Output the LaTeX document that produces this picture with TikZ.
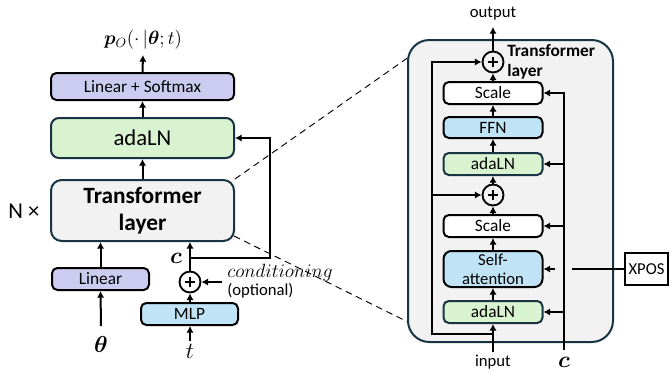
\documentclass[tikz,border=0pt]{standalone}
\usepackage{fontspec}
\setmainfont{Carlito}
\usepackage{bm}
\usetikzlibrary{arrows.meta}

\definecolor{lav}{RGB}{204,204,240}
\definecolor{mint}{RGB}{217,242,208}
\definecolor{sky}{RGB}{192,228,245}
\definecolor{panelgray}{RGB}{242,242,242}
\definecolor{edge}{RGB}{24,52,66}

\def\u{0.75pt}

\tikzset{
  box/.style={draw, line width=1.5pt, rounded corners=4pt, align=center,
    inner sep=0pt, font=\fontsize{13}{15}\selectfont},
  arr/.style={line width=1.5pt, -{Latex[length=5pt,width=5.5pt]}},
  wire/.style={line width=1.5pt},
  plus/.style={circle, draw, line width=1.4pt, minimum size=21*\u, inner sep=0pt,
    path picture={
      \draw[line width=1.3pt] (path picture bounding box.center) ++(-4pt,0) -- ++(8pt,0);
      \draw[line width=1.3pt] (path picture bounding box.center) ++(0,-4pt) -- ++(0,8pt);}},
  link/.style={line width=0.7pt, dash pattern=on 5pt off 3.5pt},
  mathlbl/.style={font=\fontsize{16}{18}\selectfont, inner sep=0pt},
  small/.style={font=\fontsize{12.5}{14}\selectfont, inner sep=0pt}
}

\begin{document}
\begin{tikzpicture}[x=\u, y=-\u]
\useasboundingbox (0,0) rectangle (672,371);

% ---------- overall model (left) ----------
\node[mathlbl, font=\fontsize{14.5}{17}\selectfont] (pout) at (143,40) {$\bm{p}_O(\cdot\,|\bm{\theta};t)$};
\node[box, fill=lav, minimum width=183*\u, minimum height=27*\u] (ls) at (142.5,86.5) {Linear + Softmax};
\node[box, draw=edge, fill=mint, rounded corners=6pt, minimum width=183*\u, minimum height=40*\u,
      font=\fontsize{17}{19}\selectfont] (ada) at (142.5,138) {adaLN};
\node[box, draw=edge, fill=panelgray, rounded corners=8pt, minimum width=183*\u, minimum height=61*\u,
      font=\fontsize{17.5}{20}\selectfont\bfseries] (tl) at (142.5,210.5) {Transformer\\layer};
\node[font=\fontsize{17}{19}\selectfont, inner sep=0pt] (nx) at (24,211) {N ×};
\node[box, fill=lav, minimum width=97*\u, minimum height=22*\u] (lin) at (100.5,279) {Linear};
\node[box, fill=sky, minimum width=97*\u, minimum height=22*\u] (mlp) at (189.5,314) {MLP};
\node[plus] (pl) at (190,282) {};
\node[mathlbl] (theta) at (101,344) {$\bm{\theta}$};
\node[mathlbl] (tt) at (190,351) {$t$};
\node[mathlbl, font=\fontsize{18}{20}\selectfont] (cl) at (176,258) {$\bm{c}$};
\node[anchor=west, inner sep=0pt, font=\fontsize{13.5}{15}\selectfont] (cond) at (227,273) {$conditioning$};
\node[anchor=west, small] (opt) at (227,291) {(optional)};

\coordinate (condin) at (222,282);
\coordinate (thfoot) at (101,326);
\coordinate (tfoot) at (190,341);
\coordinate (ptop) at (143,55);
\coordinate (cb) at (190,258);
\coordinate (cr) at (270,258);

\draw[arr] (ls.north) -- (ptop);
\draw[arr] (ada.north) -- (ls.south);
\draw[arr] (tl.north) -- (ada.south);
\draw[arr] (lin.north) -- (lin.north |- tl.south);
\draw[arr] (thfoot) -- (lin.south);
\draw[arr] (tfoot) -- (mlp.south -| tfoot);
\draw[arr] (mlp.north -| pl) -- (pl.south);
\draw[arr] (condin) -- (pl.east);
\draw[arr] (pl.north) -- (pl.north |- tl.south);
\draw[arr] (cb) -- (cr) |- (ada.east);

% ---------- zoom-in links ----------
\coordinate (za) at (416,52);
\coordinate (zb) at (416,326);
\draw[link] (tl.north east) -- (za);
\draw[link] (234,236) -- (zb);

% ---------- transformer layer (right) ----------
\node[draw=edge, fill=panelgray, line width=1.5pt, rounded corners=16pt,
      minimum width=205*\u, minimum height=302*\u] (panel) at (510.5,191) {};

\node[small, font=\fontsize{12.5}{14}\selectfont] (outl) at (493,14) {output};
\node[plus] (p2) at (493,62) {};
\node[anchor=west, inner sep=0pt, align=left, font=\fontsize{13}{15}\selectfont\bfseries] (tlab) at (507,62) {Transformer\\layer};
\node[box, fill=white, minimum width=99*\u, minimum height=22*\u] (sc2) at (493,93) {Scale};
\node[box, fill=sky, minimum width=99*\u, minimum height=21*\u] (ffn) at (493,127.5) {FFN};
\node[box, draw=edge, fill=mint, minimum width=99*\u, minimum height=22*\u] (ad2) at (493,164) {adaLN};
\node[plus] (p1) at (493,195) {};
\node[box, fill=white, minimum width=99*\u, minimum height=22*\u] (sc1) at (493,226) {Scale};
\node[box, fill=sky, rounded corners=6pt, minimum width=99*\u, minimum height=36*\u,
      font=\fontsize{12.5}{14.5}\selectfont] (sa) at (493,269) {Self-\\attention};
\node[box, draw=edge, fill=mint, minimum width=99*\u, minimum height=22*\u] (ad1) at (493,312) {adaLN};
\node[small, font=\fontsize{12.5}{14}\selectfont] (inl) at (493,362) {input};
\node[mathlbl, font=\fontsize{18}{20}\selectfont] (cc) at (564,362) {$\bm{c}$};
\node[draw, line width=1.2pt, minimum width=43*\u, minimum height=32*\u, inner sep=0pt,
      font=\fontsize{12.5}{14}\selectfont] (xpos) at (646.5,269) {XPOS};

\coordinate (outtop) at (493,27);
\coordinate (infoot) at (493,352);
\coordinate (skr) at (493,334);
\coordinate (skb) at (432,334);
\coordinate (skt) at (432,62);
\coordinate (cfoot) at (564,350);
\coordinate (xgap) at (572,269);
\coordinate (xin) at (555,269);

\draw[arr] (p2.north) -- (outtop);
\draw[arr] (sc2.north) -- (p2.south);
\draw[arr] (ffn.north) -- (sc2.south);
\draw[arr] (ad2.north) -- (ffn.south);
\draw[arr] (p1.north) -- (ad2.south);
\draw[arr] (sc1.north) -- (p1.south);
\draw[arr] (sa.north) -- (sc1.south);
\draw[arr] (ad1.north) -- (sa.south);
\draw[arr] (infoot) -- (ad1.south);

% residual paths
\draw[arr] (skr) -- (skb) -- (skt) -- (p2.west);
\draw[arr] (skb |- p1) -- (p1.west);

% conditioning vector c
\draw[arr] (cfoot) -- (cfoot |- sc2) -- (sc2.east);
\draw[arr] (cfoot |- ad2) -- (ad2.east);
\draw[arr] (cfoot |- sc1) -- (sc1.east);
\draw[arr] (cfoot |- ad1) -- (ad1.east);

% relative position encoding
\draw[wire] (xpos.west) -- (xgap);
\draw[arr] (xin) -- (sa.east);
\end{tikzpicture}
\end{document}
